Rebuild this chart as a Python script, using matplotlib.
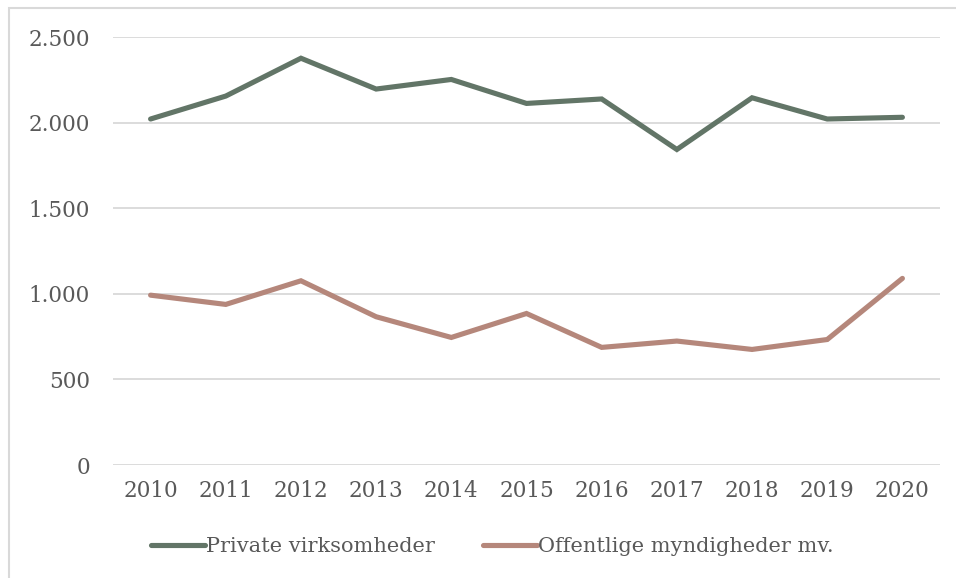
import matplotlib.pyplot as plt
from matplotlib.patches import Rectangle

years = ['2010', '2011', '2012', '2013', '2014', '2015', '2016', '2017', '2018', '2019', '2020']
private = [2021, 2155, 2376, 2196, 2252, 2112, 2138, 1843, 2145, 2021, 2031]
public = [992, 938, 1076, 866, 745, 885, 687, 724, 675, 733, 1090]
yticks = [0, 500, 1000, 1500, 2000, 2500]
ytick_labels = ['0', '500', '1.000', '1.500', '2.000', '2.500']

plt.rcParams['font.family'] = 'DejaVu Serif'

fig = plt.figure(figsize=(9.56, 5.78), dpi=100)
ax = fig.add_axes([113/956, 1 - 465/578, 827/956, 428/578])

x = range(len(years))
ax.plot(x, private, color='#627567', lw=3.7, solid_capstyle='round',
        solid_joinstyle='miter', label='Private virksomheder')
ax.plot(x, public, color='#B5877B', lw=3.7, solid_capstyle='round',
        solid_joinstyle='miter', label='Offentlige myndigheder mv.')

ax.set_xlim(-0.5, len(years) - 0.5)
ax.set_ylim(0, 2500)
ax.set_yticks(yticks)
ax.set_yticklabels(ytick_labels)
ax.set_xticks(list(x))
ax.set_xticklabels(years)
ax.grid(axis='y', color='#D9D9D9', lw=1.3)
ax.set_axisbelow(True)
for s in ax.spines.values():
    s.set_visible(False)
ax.tick_params(length=0, labelsize=15.5, colors='#595959')
ax.tick_params(axis='x', pad=11)
ax.tick_params(axis='y', pad=16.5)

fig.legend(loc='center', bbox_to_anchor=(492/956, 1 - 547/578), ncol=2,
           frameon=False, fontsize=15, handlelength=2.6, handletextpad=0.05,
           columnspacing=2.3, labelcolor='#595959')

fig.add_artist(Rectangle((9/956, -0.1), 1.1, 1 - 8/578 + 0.1, fill=False,
                         ec='#D9D9D9', lw=1.5, transform=fig.transFigure))

fig.savefig('out.png', dpi=100, facecolor='white')
